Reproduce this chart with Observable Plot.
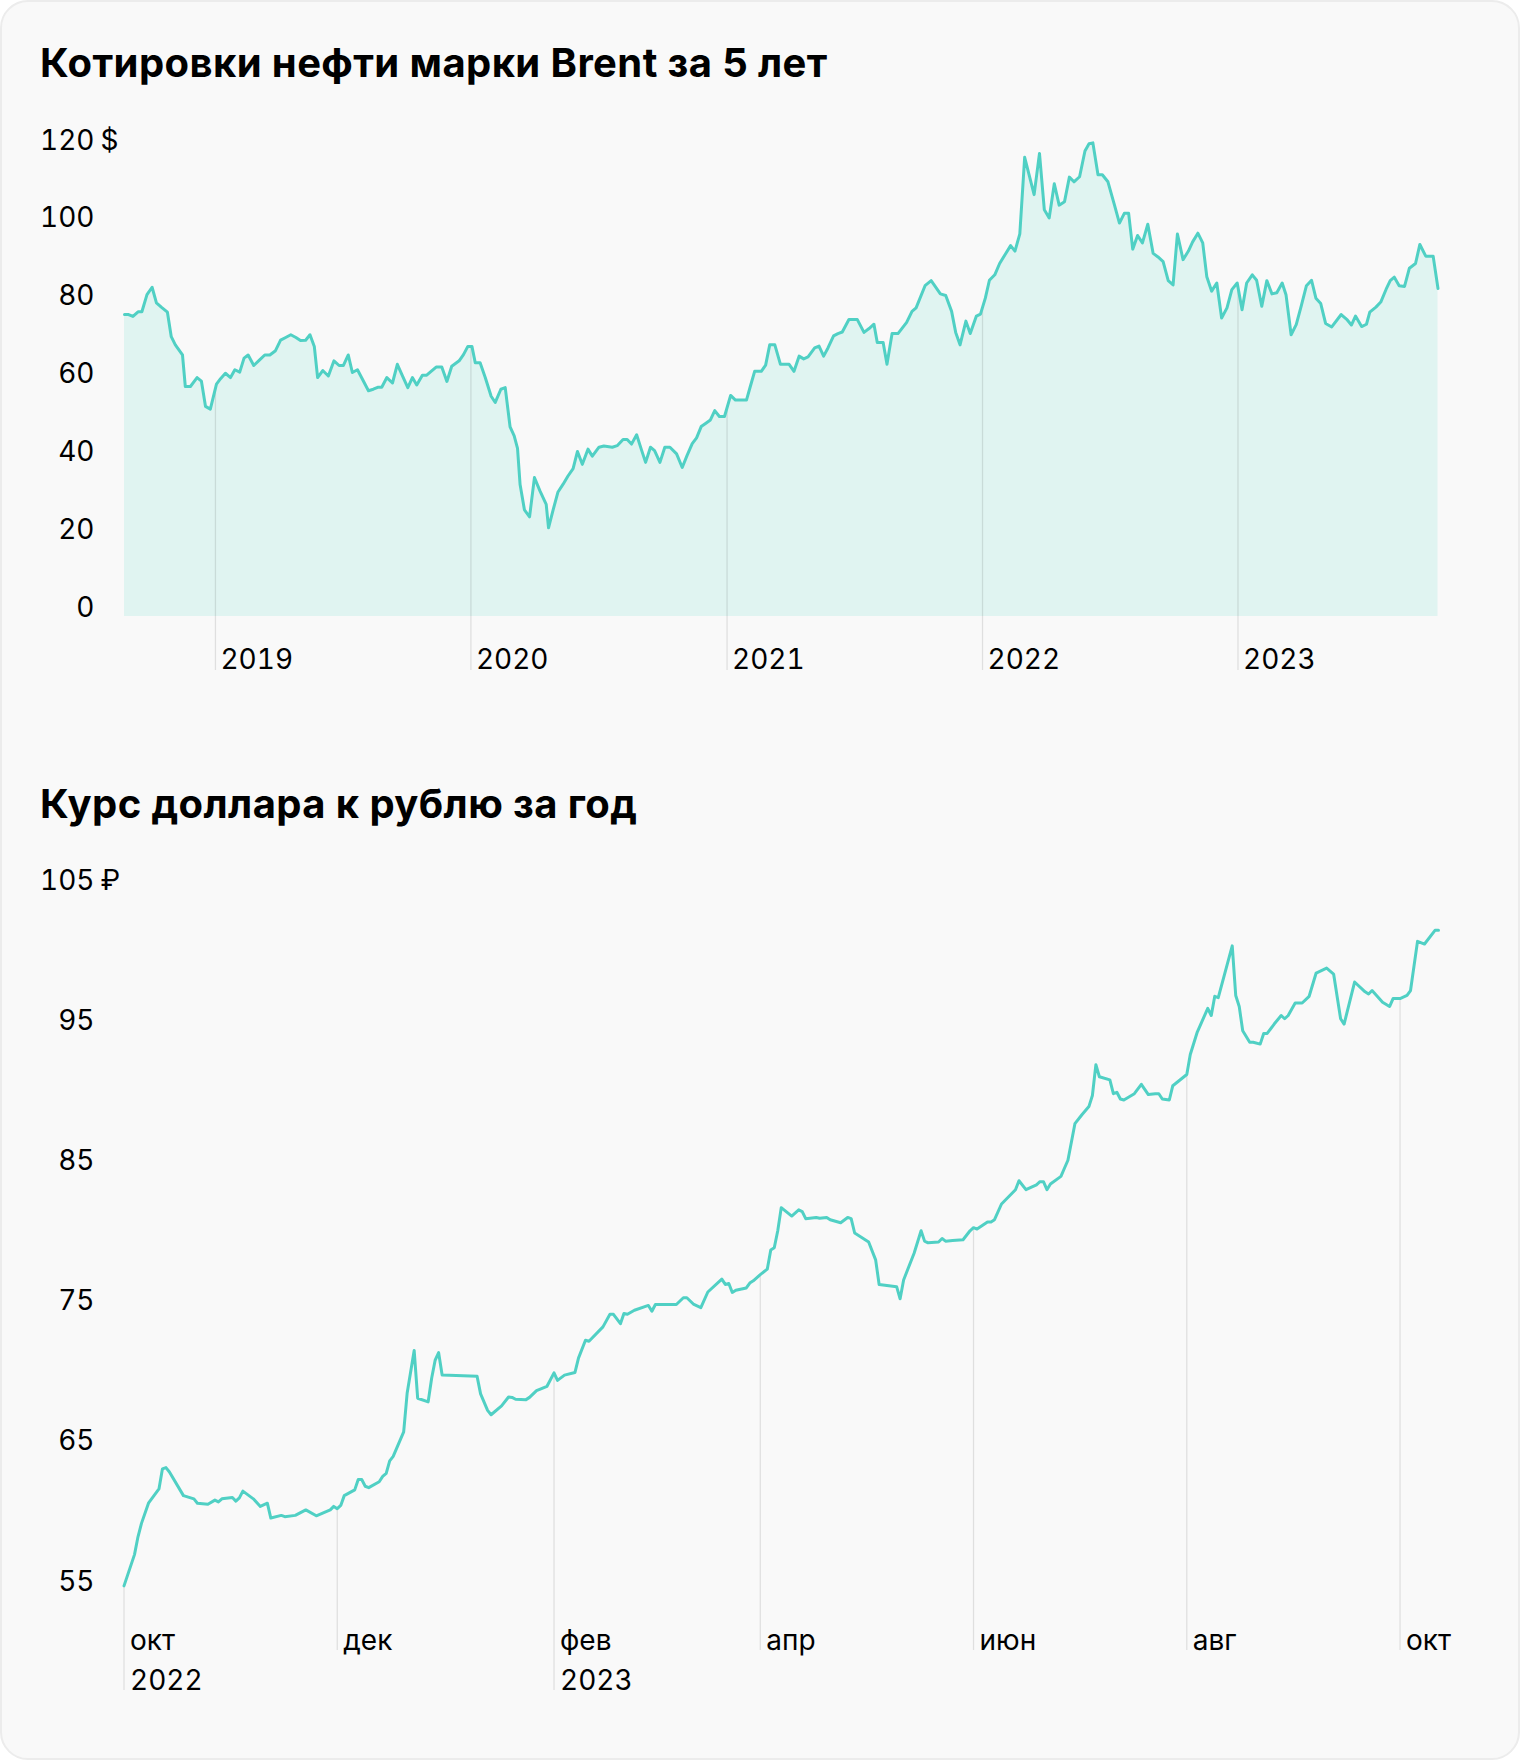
<!DOCTYPE html>
<html><head><meta charset="utf-8">
<script src="https://cdn.jsdelivr.net/npm/d3@7"></script>
<script src="https://cdn.jsdelivr.net/npm/@observablehq/plot@0.6"></script>
<style>
html,body{margin:0;padding:0;background:#fff;}
body{width:1520px;height:1760px;position:relative;overflow:hidden;font-family:Inter,"Noto Sans",sans-serif;}
#card{position:absolute;left:0;top:0;width:1516px;height:1756px;border:2px solid #ececec;border-radius:28px;background:#f9f9f9;box-sizing:content-box;}
.title{position:absolute;left:40px;margin:0;font-weight:700;font-size:40px;line-height:38px;letter-spacing:0.4px;color:#000;white-space:nowrap;font-family:Inter,sans-serif;}
.chart{position:absolute;left:0;}
.chart svg text{font-variant-numeric:tabular-nums;}
</style></head><body>
<div id="card"></div>
<h2 class="title" style="top:43.5px">Котировки нефти марки Brent за 5 лет</h2>
<div class="chart" id="c1" style="top:100px"></div>
<h2 class="title" style="top:784.5px">Курс доллара к рублю за год</h2>
<div class="chart" id="c2" style="top:860px"></div>
<script>
// ---- Brent, $ per barrel (time as decimal year) ----
const brentYear = [
2018.644,2018.660,2018.677,2018.697,2018.712,2018.732,2018.752,2018.769,2018.788,2018.812,
2018.827,2018.843,2018.871,2018.882,2018.902,2018.928,2018.945,2018.961,2018.980,2019.004,
2019.020,2019.039,2019.059,2019.076,2019.095,2019.112,2019.128,2019.150,2019.174,2019.193,
2019.213,2019.235,2019.255,2019.275,2019.295,2019.315,2019.333,2019.353,2019.370,2019.387,
2019.400,2019.420,2019.442,2019.464,2019.484,2019.501,2019.520,2019.536,2019.556,2019.576,
2019.599,2019.618,2019.635,2019.651,2019.671,2019.693,2019.712,2019.733,2019.753,2019.771,
2019.788,2019.810,2019.827,2019.843,2019.864,2019.886,2019.906,2019.925,2019.954,2019.971,
2019.988,2020.004,2020.017,2020.036,2020.056,2020.079,2020.095,2020.117,2020.134,2020.153,
2020.169,2020.182,2020.192,2020.209,2020.229,2020.248,2020.270,2020.294,2020.303,2020.321,
2020.340,2020.360,2020.379,2020.399,2020.416,2020.435,2020.457,2020.474,2020.500,2020.519,
2020.552,2020.571,2020.594,2020.610,2020.627,2020.647,2020.665,2020.682,2020.701,2020.717,
2020.738,2020.757,2020.777,2020.803,2020.825,2020.844,2020.864,2020.881,2020.899,2020.916,
2020.935,2020.952,2020.970,2020.990,2021.014,2021.033,2021.056,2021.076,2021.091,2021.108,
2021.134,2021.151,2021.167,2021.187,2021.209,2021.243,2021.262,2021.282,2021.300,2021.317,
2021.343,2021.360,2021.378,2021.395,2021.417,2021.434,2021.451,2021.477,2021.510,2021.536,
2021.556,2021.575,2021.588,2021.611,2021.626,2021.646,2021.669,2021.703,2021.724,2021.740,
2021.775,2021.799,2021.835,2021.856,2021.879,2021.895,2021.912,2021.935,2021.952,2021.976,
2021.992,2022.011,2022.027,2022.048,2022.067,2022.091,2022.110,2022.127,2022.146,2022.165,
2022.202,2022.223,2022.242,2022.261,2022.281,2022.300,2022.321,2022.340,2022.358,2022.380,
2022.401,2022.417,2022.432,2022.452,2022.469,2022.491,2022.515,2022.536,2022.555,2022.572,
2022.588,2022.607,2022.626,2022.647,2022.668,2022.687,2022.707,2022.727,2022.746,2022.763,
2022.785,2022.806,2022.822,2022.843,2022.862,2022.878,2022.897,2022.917,2022.936,2022.957,
2022.976,2022.997,2023.016,2023.034,2023.056,2023.073,2023.093,2023.113,2023.133,2023.152,
2023.173,2023.188,2023.208,2023.228,2023.248,2023.268,2023.288,2023.305,2023.324,2023.343,
2023.367,2023.404,2023.428,2023.444,2023.460,2023.484,2023.503,2023.516,2023.540,2023.559,
2023.580,2023.596,2023.612,2023.631,2023.652,2023.671,2023.695,2023.712,2023.735,2023.764,
2023.783];
const brentPrice = [
77.6,77.6,77.1,78.3,78.3,82.7,84.6,80.6,79.5,78.2,
71.9,69.8,67.2,59.1,59.1,61.4,60.5,54.0,53.3,59.7,
61.1,62.5,61.4,63.4,62.8,66.4,67.2,64.5,66.0,67.2,
67.2,68.3,71.0,71.7,72.4,71.7,70.9,71.0,72.4,69.4,
61.4,63.2,61.8,65.7,64.5,64.5,67.2,62.7,63.4,60.9,
58.0,58.4,58.9,58.9,61.4,60.0,64.8,61.7,58.8,61.4,
59.5,62.0,62.0,62.9,64.1,64.1,60.4,64.3,65.7,67.3,
69.4,69.4,65.2,65.2,61.4,56.6,55.0,58.4,58.8,48.7,
46.4,43.2,33.9,27.4,25.6,35.7,32.2,28.8,22.8,27.4,
32.0,34.0,36.1,38.0,42.4,39.1,43.0,41.2,43.5,43.8,
43.5,43.9,45.5,45.5,44.3,46.7,43.0,39.6,43.5,42.6,
39.6,43.5,43.5,41.8,38.3,41.4,44.4,45.9,48.8,49.6,
50.5,52.9,51.4,51.4,56.8,55.6,55.6,55.6,59.1,63.0,
63.0,64.6,69.8,69.8,64.8,64.8,63.0,66.9,66.2,66.7,
69.0,69.5,66.9,69.0,72.1,72.7,73.1,76.3,76.3,73.0,
74.0,75.1,70.4,70.4,64.8,72.7,72.7,75.6,78.4,79.3,
85.0,86.3,82.9,82.5,78.4,73.0,69.8,75.9,72.7,77.2,
77.7,81.8,86.4,87.8,90.7,93.3,95.3,93.9,98.3,118.0,
108.4,119.0,104.5,102.4,111.2,105.7,106.6,112.9,111.7,113.0,
119.6,121.5,121.7,113.5,113.5,111.7,106.1,101.1,103.6,103.6,
94.4,97.9,96.0,100.8,93.3,92.4,91.2,86.3,85.2,98.3,
91.7,93.9,96.2,98.5,96.0,87.3,83.6,85.7,76.7,79.3,
84.0,85.7,78.8,85.7,87.8,86.4,79.7,86.3,82.9,83.2,
85.7,82.7,72.4,75.0,79.9,85.0,86.4,81.8,80.4,75.3,
74.4,77.6,76.2,74.9,77.2,74.5,75.1,78.2,79.5,80.8,
84.1,86.3,87.2,85.0,84.8,89.5,90.7,95.6,92.6,92.6,
84.3];
const brentTickYears = [2019, 2020, 2021, 2022, 2023];
const brentYTicks = [0, 20, 40, 60, 80, 100, 120];
const brentUnit = "$";

// ---- USD/RUB (days since 2022-10-01) ----
const usdStart = "2022-10-01";
const usdDay = [
0,3,4,5,7,10,11,12,13,17,20,21,24,26,27,28,31,32,33,34,
37,39,41,42,45,46,49,52,55,59,60,61,62,63,66,67,68,69,70,73,
74,75,76,77,80,81,83,84,87,88,89,90,91,101,102,104,105,108,110,111,
112,115,116,118,121,123,124,126,129,130,132,133,137,139,140,142,143,144,146,150,
151,152,158,160,161,163,165,167,171,172,173,174,175,178,179,180,182,184,185,186,
187,188,191,193,194,195,198,199,201,202,205,207,208,209,213,215,216,221,222,223,
226,228,229,230,233,234,235,237,240,242,243,244,247,248,249,251,255,256,258,261,
262,263,264,265,268,269,270,272,274,276,277,278,279,282,283,284,285,286,289,291,
293,295,296,297,299,300,304,305,307,310,311,312,313,317,318,319,320,322,323,325,
326,327,329,331,332,333,335,337,339,341,344,346,348,349,352,355,356,357,360,362,
363,365,367,368,370,372,375,376];
const usdRate = [
55.33,57.56,58.83,59.79,61.23,62.25,63.68,63.77,63.46,61.77,61.54,61.23,61.16,61.45,61.32,61.54,61.64,61.38,61.61,62.09,
61.54,61.00,61.23,60.17,60.36,60.27,60.36,60.75,60.33,60.75,61.00,60.84,61.07,61.77,62.18,62.92,62.92,62.44,62.34,62.76,
63.14,63.36,64.25,64.57,66.32,69.10,72.13,68.72,68.46,70.15,71.43,71.97,70.37,70.28,69.03,67.85,67.54,68.17,68.81,68.78,
68.65,68.62,68.78,69.26,69.57,70.53,69.99,70.37,70.56,71.58,72.86,72.79,73.81,74.71,74.71,74.04,74.77,74.71,75.00,75.34,
74.93,75.41,75.41,75.89,75.89,75.41,75.18,76.30,77.22,76.84,76.91,76.27,76.43,76.59,76.94,77.10,77.54,77.93,79.30,79.46,
80.67,82.32,81.72,82.16,82.04,81.53,81.62,81.56,81.62,81.46,81.24,81.62,81.53,80.51,79.87,78.59,76.84,76.68,75.82,77.16,
79.07,80.67,79.93,79.81,79.87,80.12,79.93,79.97,80.03,80.67,80.89,80.79,81.30,81.30,81.46,82.58,83.60,84.24,83.60,83.95,
84.17,84.17,83.60,84.01,84.55,85.13,85.70,88.31,88.95,89.53,90.32,92.52,91.66,91.44,90.45,90.55,90.07,90.00,90.45,91.12,
90.39,90.45,90.45,90.07,90.00,91.02,91.82,93.25,94.85,96.54,96.03,97.40,97.30,101.00,97.46,96.67,94.94,94.12,94.12,93.99,
94.75,94.75,95.42,96.03,95.80,96.03,96.92,96.92,97.40,99.06,99.41,98.99,95.80,95.42,98.42,97.72,97.56,97.81,96.98,96.67,
97.24,97.24,97.46,97.81,101.32,101.13,102.11,102.11];
const usdTickDates = ["2022-10-01","2022-12-01","2023-02-01","2023-04-01","2023-06-01","2023-08-01","2023-10-01"];
const usdTickLabels = ["окт\n2022","дек","фев\n2023","апр","июн","авг","окт"];
const usdYTicks = [55, 65, 75, 85, 95, 105];
const usdUnit = "₽";

// ---- helpers ----
const LINE = "#50d0c4", AREA = "#e0f4f1";
const yearToDate = t => { const y = Math.floor(t); const a = Date.UTC(y,0,1), b = Date.UTC(y+1,0,1); return new Date(a + (t - y) * (b - a)); };
function valueAt(series, date) {
  const i = d3.bisector(d => d.date).left(series, date);
  if (i <= 0) return series[0].value;
  if (i >= series.length) return series[series.length - 1].value;
  const a = series[i - 1], b = series[i];
  return a.value + (date - a.date) / (b.date - a.date) * (b.value - a.value);
}
const baseStyle = {background: "transparent", fontFamily: "Inter, sans-serif", fontSize: "28px", color: "#000", overflow: "visible"};

// ---- chart 1 ----
const brent = brentYear.map((t, i) => ({date: yearToDate(t), value: brentPrice[i]}));
const brentTicks = brentTickYears.map(y => { const date = new Date(Date.UTC(y, 0, 1)); return {date, value: valueAt(brent, date), label: String(y)}; });
const p1 = Plot.plot({
  width: 1520, height: 600,
  marginTop: 49, marginBottom: 84, marginLeft: 124, marginRight: 82.5,
  style: baseStyle,
  x: {type: "utc", domain: [brent[0].date, brent[brent.length - 1].date], axis: null},
  y: {domain: [0, 120], axis: null},
  marks: [
    Plot.areaY(brent, {x: "date", y: "value", fill: AREA}),
    Plot.ruleX(brentTicks, {x: "date", y1: "value", y2: 0, stroke: "#000", strokeOpacity: 0.1, strokeWidth: 1.3, insetBottom: -54}),
    Plot.lineY(brent, {x: "date", y: "value", stroke: LINE, strokeWidth: 3}),
    Plot.text(brentTicks, {x: "date", frameAnchor: "bottom", text: "label", textAnchor: "start", lineAnchor: "top", dx: 5, dy: 33, fontSize: 28, fill: "#000"}),
    Plot.text(brentYTicks, {y: d => d, frameAnchor: "left", text: d => String(d), textAnchor: "end", lineAnchor: "bottom", dx: -30, fontSize: 28, fill: "#000"}),
    Plot.text([brentYTicks[brentYTicks.length - 1]], {y: d => d, frameAnchor: "left", text: () => brentUnit, textAnchor: "start", lineAnchor: "bottom", dx: -24, fontSize: 28, fill: "#000"})
  ]
});
document.getElementById("c1").append(p1);

// ---- chart 2 ----
const start = new Date(usdStart);
const usd = usdDay.map((d, i) => ({date: d3.utcDay.offset(start, d), value: usdRate[i]}));
const usdTicks = usdTickDates.map((s, i) => { const date = new Date(s); return {date, value: valueAt(usd, date), label: usdTickLabels[i], two: usdTickLabels[i].includes("\n")}; });
const p2 = Plot.plot({
  width: 1520, height: 860,
  marginTop: 29.3, marginBottom: 130, marginLeft: 123.5, marginRight: 82,
  style: baseStyle,
  x: {type: "utc", domain: [usd[0].date, usd[usd.length - 1].date], axis: null},
  y: {domain: [55, 105], axis: null},
  marks: [
    Plot.ruleX(usdTicks.filter(d => !d.two), {x: "date", y1: "value", y2: 55, stroke: "#000", strokeOpacity: 0.1, strokeWidth: 1.3, insetBottom: -60}),
    Plot.ruleX(usdTicks.filter(d => d.two), {x: "date", y1: "value", y2: 55, stroke: "#000", strokeOpacity: 0.1, strokeWidth: 1.3, insetBottom: -100}),
    Plot.lineY(usd, {x: "date", y: "value", stroke: LINE, strokeWidth: 3}),
    Plot.text(usdTicks, {x: "date", frameAnchor: "bottom", text: "label", textAnchor: "start", lineAnchor: "top", lineHeight: 40 / 28, dx: 6, dy: 31.6, fontSize: 28, fill: "#000"}),
    Plot.text(usdYTicks, {y: d => d, frameAnchor: "left", text: d => String(d), textAnchor: "end", lineAnchor: "bottom", dx: -29.5, fontSize: 28, fill: "#000"}),
    Plot.text([usdYTicks[usdYTicks.length - 1]], {y: d => d, frameAnchor: "left", text: () => usdUnit, textAnchor: "start", lineAnchor: "bottom", dx: -23.5, fontSize: 28, fill: "#000"})
  ]
});
document.getElementById("c2").append(p2);
</script>
</body></html>
